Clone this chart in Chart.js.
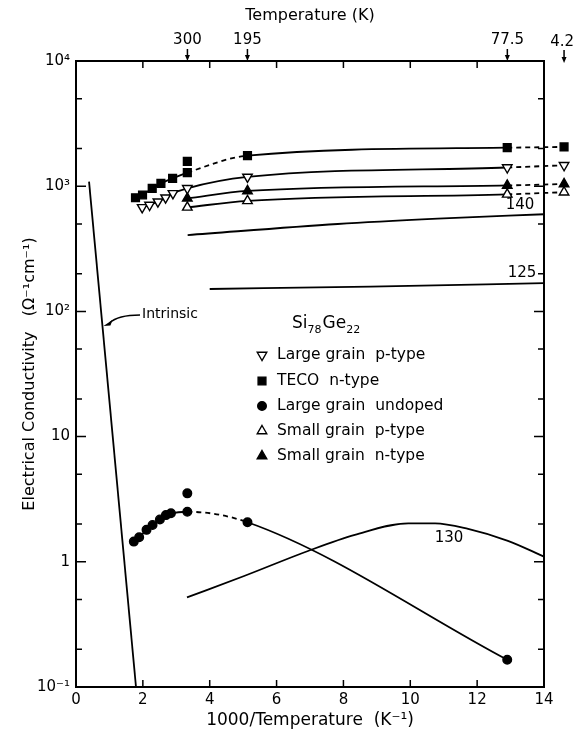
<!DOCTYPE html>
<html>
<head>
<meta charset="utf-8">
<script src="https://cdn.jsdelivr.net/npm/chart.js@4.4.0/dist/chart.umd.min.js"></script>
<style>
  html, body { margin: 0; padding: 0; background: #fff; }
</style>
</head>
<body>
<canvas id="grafico" width="574" height="733"></canvas>
<script>
// ---------- DATA ----------
// bottom axis (1000/T) and left axis ticks
const xTickValues = [0, 2, 4, 6, 8, 10, 12, 14];
const yMajorValues = [0.1, 1, 10, 100, 1000, 10000];
const yMajorLabels = ["10⁻¹", "1", "10", "10²", "10³", "10⁴"];
const yTickValues = [0.1, 0.2, 0.5, 1, 2, 5, 10, 20, 50, 100, 200, 500, 1000, 2000, 5000, 10000];

// top axis: temperature marks (K)
const tempMarksK = [300, 195, 77.5];
const tempMarkLabels = ["300", "195", "77.5"];
const heliumLabel = "4.2";
const heliumX = 14.6; // 4.2 K is drawn past the end of the axis, as in the figure

// Large grain p-type (open down triangles)
const lgpX = [1.98, 2.20, 2.45, 2.68, 2.90, 3.33, 5.13, 12.9, 14.6];
const lgpY = [678, 708, 752, 809, 877, 962, 1185, 1410, 1470];
const lgpDashed = [7];

// TECO n-type (filled squares)
const tecoX = [1.78, 1.99, 2.28, 2.54, 2.89, 3.33, 5.13, 12.9, 14.6];
const tecoY = [809, 851, 962, 1054, 1156, 1282, 1755, 2030, 2060];
const tecoDashed = [5, 7];
const tecoExtraX = [3.33];
const tecoExtraY = [1581];

// Large grain undoped (filled circles)
const undX = [1.73, 1.89, 2.11, 2.29, 2.51, 2.69, 2.84, 3.33, 5.13, 12.9];
const undY = [1.45, 1.57, 1.80, 1.97, 2.18, 2.36, 2.44, 2.51, 2.07, 0.165];
const undDashed = [7];
const undExtraX = [3.33];
const undExtraY = [3.52];

// Small grain p-type (open up triangles)
const sgpX = [3.33, 5.13, 12.9, 14.6];
const sgpY = [678, 763, 861, 895];
const sgpDashed = [2];

// Small grain n-type (filled up triangles)
const sgnX = [3.33, 5.13, 12.9, 14.6];
const sgnY = [800, 916, 1014, 1042];
const sgnDashed = [2];

// curves without symbols
const c140X = [3.34, 7.83, 10.82, 14.0];
const c140Y = [407, 499, 550, 597];
const c125X = [4.0, 8.81, 14.0];
const c125Y = [151, 158, 168];
const c130X = [3.32, 5.03, 6.94, 8.34, 9.94, 10.74, 11.73, 12.92, 14.0];
const c130Y = [0.52, 0.77, 1.22, 1.64, 2.03, 2.03, 1.83, 1.47, 1.10];
const intrinsicX = [0.39, 1.795];
const intrinsicY = [1087, 0.1];

const legendLabels = ["Large grain  p-type", "TECO  n-type", "Large grain  undoped", "Small grain  p-type", "Small grain  n-type"];

// ---------- HELPERS ----------
const FONT = "'DejaVu Sans', sans-serif";

function pontos(xs, ys) {
  return xs.map((x, i) => ({ x: x, y: ys[i] }));
}

function tracejado(lista) {
  return { borderDash: c => lista.includes(c.p0DataIndex) ? [5, 4] : undefined };
}

function serie(label, xs, ys, dashed, style, rot, filled, radius) {
  return {
    label: label,
    data: pontos(xs, ys),
    borderColor: "#000",
    borderWidth: 1.8,
    pointStyle: style,
    pointRotation: rot,
    pointRadius: radius,
    pointBorderColor: "#000",
    pointBorderWidth: 1.4,
    pointBackgroundColor: filled ? "#000" : "#fff",
    cubicInterpolationMode: "monotone",
    segment: tracejado(dashed),
    clip: false
  };
}

function extra(xs, ys, style, radius) {
  return {
    label: "extra",
    data: pontos(xs, ys),
    showLine: false,
    pointStyle: style,
    pointRadius: radius,
    pointBackgroundColor: "#000",
    pointBorderColor: "#000",
    pointBorderWidth: 1.4,
    clip: false
  };
}

function curva(xs, ys) {
  return {
    label: "curve",
    data: pontos(xs, ys),
    borderColor: "#000",
    borderWidth: 1.8,
    pointRadius: 0,
    cubicInterpolationMode: "monotone",
    clip: false
  };
}

function marcador(ctx, ds, x, y) {
  const r = ds.pointRadius;
  ctx.beginPath();
  if (ds.pointStyle === "rect") {
    const s = r * Math.SQRT1_2;
    ctx.rect(x - s, y - s, 2 * s, 2 * s);
  } else if (ds.pointStyle === "circle") {
    ctx.arc(x, y, r, 0, Math.PI * 2);
  } else {
    let a = (ds.pointRotation || 0) * Math.PI / 180;
    for (let k = 0; k < 3; k++) {
      const px = x + Math.sin(a) * r, py = y - Math.cos(a) * r;
      k === 0 ? ctx.moveTo(px, py) : ctx.lineTo(px, py);
      a += 2 * Math.PI / 3;
    }
    ctx.closePath();
  }
  ctx.fillStyle = ds.pointBackgroundColor;
  ctx.fill();
  ctx.lineWidth = ds.pointBorderWidth;
  ctx.strokeStyle = "#000";
  ctx.stroke();
}

function seta(ctx, x, y0, y1) {
  ctx.beginPath();
  ctx.moveTo(x, y0);
  ctx.lineTo(x, y1 - 4);
  ctx.stroke();
  ctx.beginPath();
  ctx.moveTo(x - 2.5, y1 - 6);
  ctx.lineTo(x + 2.5, y1 - 6);
  ctx.lineTo(x, y1);
  ctx.closePath();
  ctx.fill();
}

// ---------- PLUGIN: ticks, arrows, labels, legend ----------
const anotacoes = {
  id: "anotacoes",
  afterDraw(chart) {
    const { ctx, chartArea: a, scales } = chart;
    ctx.save();

    // Chart.js skips symbols outside the chart area: draw the 4.2 K ones here
    chart.data.datasets.forEach((ds, i) => {
      if (!ds.pointRadius) return;
      chart.getDatasetMeta(i).data.forEach(el => {
        if (el.x > a.right) marcador(ctx, ds, el.x, el.y);
      });
    });

    ctx.strokeStyle = "#000";
    ctx.fillStyle = "#000";
    ctx.lineWidth = 1.5;

    // inward ticks on bottom and top
    xTickValues.forEach(v => {
      if (v <= 0 || v >= 14) return;
      const px = scales.x.getPixelForValue(v);
      ctx.beginPath();
      ctx.moveTo(px, a.bottom); ctx.lineTo(px, a.bottom - 7);
      ctx.moveTo(px, a.top); ctx.lineTo(px, a.top + 7);
      ctx.stroke();
    });
    // inward ticks on left and right
    yTickValues.forEach(v => {
      if (v <= 0.1 || v >= 10000) return;
      const py = scales.y.getPixelForValue(v);
      const len = yMajorValues.includes(v) ? 10 : 6;
      ctx.beginPath();
      ctx.moveTo(a.left, py); ctx.lineTo(a.left + len, py);
      ctx.moveTo(a.right, py); ctx.lineTo(a.right - len, py);
      ctx.stroke();
    });

    // temperature arrows on top
    tempMarksK.forEach(t => {
      seta(ctx, scales.xTop.getPixelForValue(1000 / t), a.top - 12, a.top);
    });
    const hx = scales.x.getPixelForValue(heliumX);
    seta(ctx, hx, a.top - 11, a.top + 2);
    ctx.font = "15px " + FONT;
    ctx.textAlign = "center";
    ctx.textBaseline = "middle";
    ctx.fillText(heliumLabel, hx - 2, a.top - 19);

    // curve labels
    ctx.font = "15px " + FONT;
    ctx.fillText("140", 520, 205);
    ctx.fillText("125", 522, 273);
    ctx.fillText("130", 449, 538);
    ctx.font = "14px " + FONT;
    ctx.textAlign = "left";
    ctx.fillText("Intrinsic", 142, 314);

    // arrow from "Intrinsic" to the line
    const m = chart.getDatasetMeta(chart.data.datasets.length - 1).data;
    const tipY = 326;
    const f = (tipY - m[0].y) / (m[1].y - m[0].y);
    const tipX = m[0].x + f * (m[1].x - m[0].x) + 1;
    ctx.beginPath();
    ctx.moveTo(140, 315);
    ctx.quadraticCurveTo(118, 315, tipX + 6, tipY - 3);
    ctx.stroke();
    ctx.beginPath();
    ctx.moveTo(tipX, tipY);
    ctx.lineTo(tipX + 9, tipY - 6);
    ctx.lineTo(tipX + 7, tipY - 0.5);
    ctx.closePath();
    ctx.fill();

    // legend
    ctx.textBaseline = "alphabetic";
    let lx = 292;
    const partes = [["Si", 0], ["78", 1], ["Ge", 0], ["22", 1]];
    partes.forEach(([txt, sub]) => {
      ctx.font = (sub ? "11px " : "17px ") + FONT;
      ctx.fillText(txt, lx, sub ? 333 : 328);
      lx += ctx.measureText(txt).width + (sub ? 1 : 0);
    });
    ctx.font = "15.5px " + FONT;
    ctx.textBaseline = "middle";
    const rows = [355, 381, 406, 431, 456];
    legendLabels.forEach((txt, i) => {
      marcador(ctx, chart.data.datasets[i], 262, rows[i]);
      ctx.fillStyle = "#000";
      ctx.fillText(txt, 277, rows[i]);
    });
    ctx.restore();
  }
};

// ---------- CHART ----------
const datasets = [
  serie("Large grain p-type", lgpX, lgpY, lgpDashed, "triangle", 180, false, 5.5),
  serie("TECO n-type", tecoX, tecoY, tecoDashed, "rect", 0, true, 5.5),
  serie("Large grain undoped", undX, undY, undDashed, "circle", 0, true, 4.3),
  serie("Small grain p-type", sgpX, sgpY, sgpDashed, "triangle", 0, false, 5.5),
  serie("Small grain n-type", sgnX, sgnY, sgnDashed, "triangle", 0, true, 5.5),
  extra(tecoExtraX, tecoExtraY, "rect", 5.5),
  extra(undExtraX, undExtraY, "circle", 4.3),
  curva(c140X, c140Y),
  curva(c125X, c125Y),
  curva(c130X, c130Y),
  {
    label: "Intrinsic",
    data: pontos(intrinsicX, intrinsicY),
    borderColor: "#000",
    borderWidth: 1.8,
    pointRadius: 0,
    tension: 0,
    clip: false
  }
];

const borda = { display: true, color: "#000", width: 2 };
const semGrade = { display: false, drawTicks: false };

new Chart(document.getElementById("grafico").getContext("2d"), {
  type: "line",
  data: { datasets: datasets },
  options: {
    responsive: false,
    animation: false,
    events: [],
    layout: { padding: 0 },
    plugins: { legend: { display: false }, tooltip: { enabled: false } },
    scales: {
      x: {
        type: "linear", position: "bottom", min: 0, max: 14,
        afterBuildTicks: s => { s.ticks = xTickValues.map(v => ({ value: v })); },
        afterFit: s => { s.height = 46; },
        ticks: { color: "#000", padding: 4, font: { family: FONT, size: 15 } },
        grid: semGrade, border: borda,
        title: { display: true, text: "1000/Temperature  (K⁻¹)", color: "#000",
                 font: { family: FONT, size: 17 }, padding: { bottom: 2 } }
      },
      xTop: {
        type: "linear", position: "top", min: 0, max: 14,
        afterBuildTicks: s => { s.ticks = tempMarksK.map(t => ({ value: 1000 / t })); },
        afterFit: s => { s.height = 61; },
        ticks: { color: "#000", padding: 12, autoSkip: false, maxRotation: 0,
                 font: { family: FONT, size: 15 },
                 callback: (v, i) => tempMarkLabels[i] },
        grid: semGrade, border: borda,
        title: { display: true, text: "Temperature (K)", color: "#000",
                 font: { family: FONT, size: 16 }, padding: { top: 6 } }
      },
      y: {
        type: "logarithmic", position: "left", min: 0.1, max: 10000,
        afterBuildTicks: s => { s.ticks = yTickValues.map(v => ({ value: v })); },
        afterFit: s => { s.width = 76; },
        ticks: { color: "#000", padding: 6, autoSkip: false,
                 font: { family: FONT, size: 15 },
                 callback: v => { const i = yMajorValues.indexOf(v); return i >= 0 ? yMajorLabels[i] : ""; } },
        grid: semGrade, border: borda,
        title: { display: true, text: "Electrical Conductivity   (Ω⁻¹cm⁻¹)", color: "#000",
                 font: { family: FONT, size: 16 }, padding: { top: 20 } }
      },
      yRight: {
        type: "logarithmic", position: "right", min: 0.1, max: 10000,
        afterFit: s => { s.width = 30; },
        ticks: { display: false },
        grid: semGrade, border: borda
      }
    }
  },
  plugins: [anotacoes]
});
</script>
</body>
</html>
